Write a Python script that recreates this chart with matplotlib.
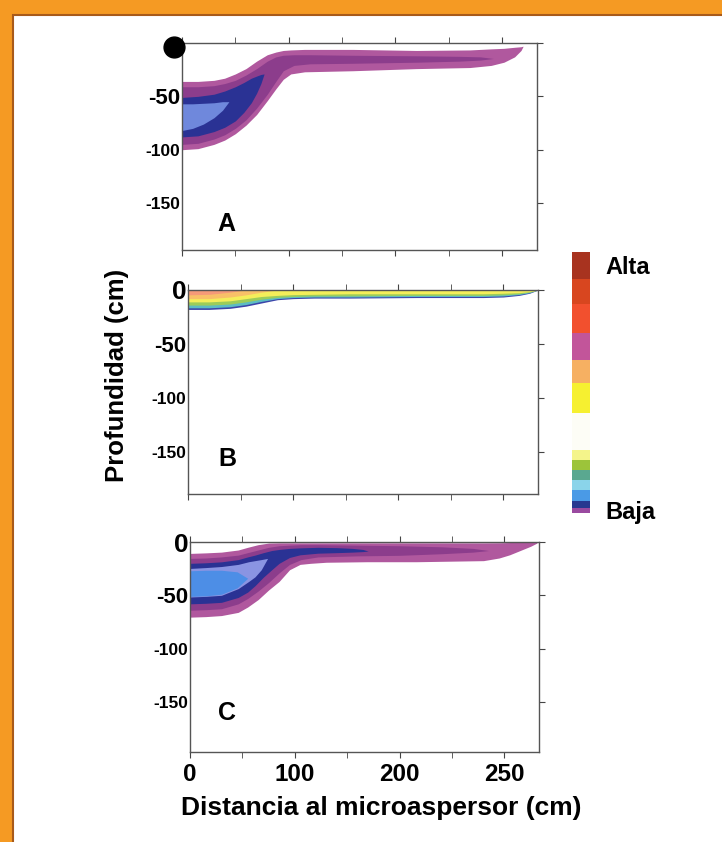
import matplotlib as mpl
import matplotlib.pyplot as plt
from matplotlib.colors import BoundaryNorm, ListedColormap
from matplotlib.patches import Rectangle

plt.rcParams["font.family"] = ["Liberation Sans", "DejaVu Sans"]
plt.rcParams["font.weight"] = "bold"

# --- Panel A: frente de humedecimiento (profundidad en cm) ---
a1_x = [0, 15, 30, 40, 50, 60, 70, 80, 88, 95, 102, 115, 160, 220, 270, 290, 302, 312, 318, 320]
a1_top = [-36, -36, -35, -33, -29, -24, -17, -11, -8.5, -7, -6.5, -6, -6, -7, -6.5, -5.5, -5, -4, -3.5, -3]
a1_bot = [-100, -99, -95, -91, -85, -77, -67, -54, -43, -34, -29, -27, -26, -24, -23, -21, -18, -13, -7, -3]
a2_x = [0, 15, 30, 40, 50, 60, 70, 80, 88, 95, 105, 120, 160, 220, 260, 280, 292]
a2_top = [-41, -41, -40, -38, -35, -30, -24, -17, -13, -11.5, -11, -11, -11.5, -12, -12.5, -13, -14.5]
a2_bot = [-95, -94, -90, -86, -80, -72, -61, -48, -36, -26, -21, -19.5, -19, -18, -17, -16, -14.5]
a3_x = [0, 15, 30, 40, 50, 58, 65, 70, 74, 77]
a3_top = [-51, -50, -48, -45, -41, -37, -33, -31, -29.5, -29]
a3_bot = [-88, -87, -83, -79, -73, -65, -56, -47, -38, -29]
a4_x = [0, 10, 20, 30, 38, 44]
a4_top = [-57, -57, -56.5, -56, -55, -55]
a4_bot = [-82, -80, -76, -70, -63, -55]

# --- Panel B ---
b_x = [0, 20, 40, 55, 70, 85, 100, 120, 154, 218, 281, 300, 315, 325, 333]
b_top = [0] * len(b_x)
b1_bot = [-18, -18, -17, -15, -12, -9, -8, -7.5, -7.5, -7, -7, -6.5, -5, -3, 0]
b2_bot = [-16.5, -16.5, -15.5, -13.5, -10.5, -8, -7, -6.5, -6.5, -6, -6, -5.5, -4.2, -2.5, 0]
b3_bot = [-14, -14, -13, -11, -8.5, -6.8, -6, -5.5, -5.5, -5, -5, -4.5, -3.5, -2, 0]
b4_bot = [-11, -11, -10, -8, -6, -5, -4.3, -4, -3.5, -3.5, -3.5, -3, -2.5, -1.5, 0]
b5_x = [0, 20, 40, 55, 70, 85]
b5_bot = [-8, -8, -6.5, -4.5, -2, 0]
b6_x = [0, 20, 40, 55]
b6_bot = [-4.5, -4, -2, 0]

# --- Panel C ---
c1_x = [0, 15, 30, 46, 55, 65, 75, 85, 95, 105, 115, 130, 169, 216, 280, 295, 305, 315, 325, 331]
c1_top = [-10.7, -10.2, -9.5, -7.5, -5, -2.5, -1, -0.8, -0.8, -0.8, -0.8, -0.8, -0.8, -0.8, -0.8,
          -0.7, -0.5, -0.3, -0.1, 0]
c1_bot = [-70.5, -70, -69, -66, -61, -54, -45, -37, -26, -21, -20, -19, -18.5, -18.5, -17.5,
          -15, -12, -8, -4, -1]
c2_x = [0, 15, 30, 46, 55, 65, 75, 85, 95, 106, 122, 160, 200, 240, 270, 285]
c2_top = [-15.4, -15, -14, -12.3, -10, -7.5, -5, -3.5, -3, -2.5, -2.5, -3, -3.5, -4.5, -6, -8]
c2_bot = [-64, -63.5, -62.6, -58, -53, -46, -38, -29, -21, -16.5, -14, -13, -12.5, -11, -9.5, -8]
c3_x = [0, 15, 30, 46, 55, 62, 70, 78, 85, 95, 105, 122, 140, 155, 165, 170]
c3_top = [-20, -19.5, -18.6, -16.5, -14, -12.3, -10, -8, -7, -6, -5.5, -5, -5.3, -6, -7, -8.5]
c3_bot = [-58, -57.5, -56.6, -52, -47, -41, -33, -26, -20, -14.5, -12, -10.5, -10, -9.5, -9, -8.5]
c4_x = [0, 15, 30, 46, 56, 62, 68, 74]
c4_top = [-24.8, -24, -23, -21, -18.5, -17.5, -16.5, -15.4]
c4_bot = [-51.6, -51, -50, -43.7, -37, -32.7, -26, -15.4]
c5_x = [0, 15, 30, 45, 55]
c5_top = [-27, -26.5, -26.5, -28, -34]
c5_bot = [-51, -50.5, -49, -43, -34]

# --- Escala de color (de Baja a Alta) ---
scale_levels = [0, 15, 35, 70, 100, 130, 160, 190, 300, 390, 460, 540, 630, 705, 785]
scale_colors = ["#9a4aa0", "#283890", "#4a9ae6", "#8ad4ea", "#5aa890", "#9cc43a",
                "#f4f48a", "#fdfdf6", "#f6f030", "#f6b062", "#c2559a", "#f2502e",
                "#d8461f", "#a8331f"]

x_ticks = [0, 100, 200, 300]
x_ticklabels = ["0", "100", "200", "250"]
y_ticks = [0, -50, -100, -150]
y_ticklabels = ["0", "-50", "-100", "-150"]

MAGENTA = "#b0589e"
PURPLE = "#8c3d8c"
DARKBLUE = "#2a3294"

fig = plt.figure(figsize=(7.22, 8.42), dpi=100, facecolor="#f59a23")
fig.add_artist(Rectangle((13 / 722, -0.05), 1.1, 1.05 - 15 / 842, transform=fig.transFigure,
                         facecolor="white", edgecolor="#a85a1a", linewidth=1.5, zorder=-1))


def make_panel(rect, ybottom, letter, letter_xy, show_zero, show_x):
    ax = fig.add_axes(rect)
    ax.set_xlim(0, 333)
    ax.set_ylim(ybottom, 0)
    ax.set_xticks(x_ticks)
    ax.set_xticks([50, 150, 250], minor=True)
    ax.set_xticklabels(x_ticklabels if show_x else [])
    ax.set_yticks(y_ticks)
    labels = list(y_ticklabels)
    if not show_zero:
        labels[0] = ""
    ax.set_yticklabels(labels)
    for t in ax.get_yticklabels():
        size = {"0": 19, "-50": 16}.get(t.get_text(), 12.5)
        t.set_fontsize(size)
    ax.tick_params(axis="x", which="both", direction="out", top=True, length=4,
                   labelsize=17.5, pad=4, color="#444")
    ax.tick_params(axis="y", direction="out", left=False, right=True, length=4,
                   pad=-3, color="#444")
    for s in ax.spines.values():
        s.set_color("#555")
        s.set_linewidth(1)
    ax.text(letter_xy[0], letter_xy[1], letter, fontsize=18, ha="center", va="center")
    return ax


ax_a = make_panel([182 / 722, 1 - 250 / 842, 355 / 722, 207 / 842], -194, "A", (42, -170), False, False)
ax_a.fill_between(a1_x, a1_top, a1_bot, color=MAGENTA, linewidth=0)
ax_a.fill_between(a2_x, a2_top, a2_bot, color=PURPLE, linewidth=0)
ax_a.fill_between(a3_x, a3_top, a3_bot, color=DARKBLUE, linewidth=0)
ax_a.fill_between(a4_x, a4_top, a4_bot, color="#6f88dc", linewidth=0)
ax_a.plot([-7.5], [-4], "o", color="black", markersize=15, clip_on=False, zorder=5)

ax_b = make_panel([188 / 722, 1 - 494 / 842, 350 / 722, 204 / 842], -189, "B", (37, -157), True, False)
ax_b.fill_between(b_x, b_top, b1_bot, color="#3c44aa", linewidth=0)
ax_b.fill_between(b_x, b_top, b2_bot, color="#5cbcc4", linewidth=0)
ax_b.fill_between(b_x, b_top, b3_bot, color="#9ccc5a", linewidth=0)
ax_b.fill_between(b_x, b_top, b4_bot, color="#f4ee5a", linewidth=0)
ax_b.fill_between(b5_x, b_top[:len(b5_x)], b5_bot, color="#f8c068", linewidth=0)
ax_b.fill_between(b6_x, b_top[:len(b6_x)], b6_bot, color="#f59a78", linewidth=0)

ax_c = make_panel([190 / 722, 1 - 752 / 842, 349 / 722, 210 / 842], -197, "C", (35, -160), True, True)
ax_c.fill_between(c1_x, c1_top, c1_bot, color=MAGENTA, linewidth=0)
ax_c.fill_between(c2_x, c2_top, c2_bot, color=PURPLE, linewidth=0)
ax_c.fill_between(c3_x, c3_top, c3_bot, color=DARKBLUE, linewidth=0)
ax_c.fill_between(c4_x, c4_top, c4_bot, color="#8a94e2", linewidth=0)
ax_c.fill_between(c5_x, c5_top, c5_bot, color="#4d8ee6", linewidth=0)

cax = fig.add_axes([572 / 722, 1 - 513 / 842, 18 / 722, 261 / 842])
sm = mpl.cm.ScalarMappable(norm=BoundaryNorm(scale_levels, len(scale_colors)),
                           cmap=ListedColormap(scale_colors))
cb = fig.colorbar(sm, cax=cax, spacing="proportional")
cb.outline.set_visible(False)
cb.set_ticks([])
cb.minorticks_off()
cax.tick_params(which="both", length=0)
fig.text(605 / 722, 1 - 268 / 842, "Alta", fontsize=17, va="center")
fig.text(605 / 722, 1 - 512 / 842, "Baja", fontsize=17, va="center")

fig.text(117 / 722, 1 - 375 / 842, "Profundidad (cm)", fontsize=18.5, rotation=90,
         ha="center", va="center")
fig.text(381 / 722, 1 - 808 / 842, "Distancia al microaspersor (cm)", fontsize=19,
         ha="center", va="center")

plt.savefig("out.png", dpi=100, facecolor=fig.get_facecolor())
